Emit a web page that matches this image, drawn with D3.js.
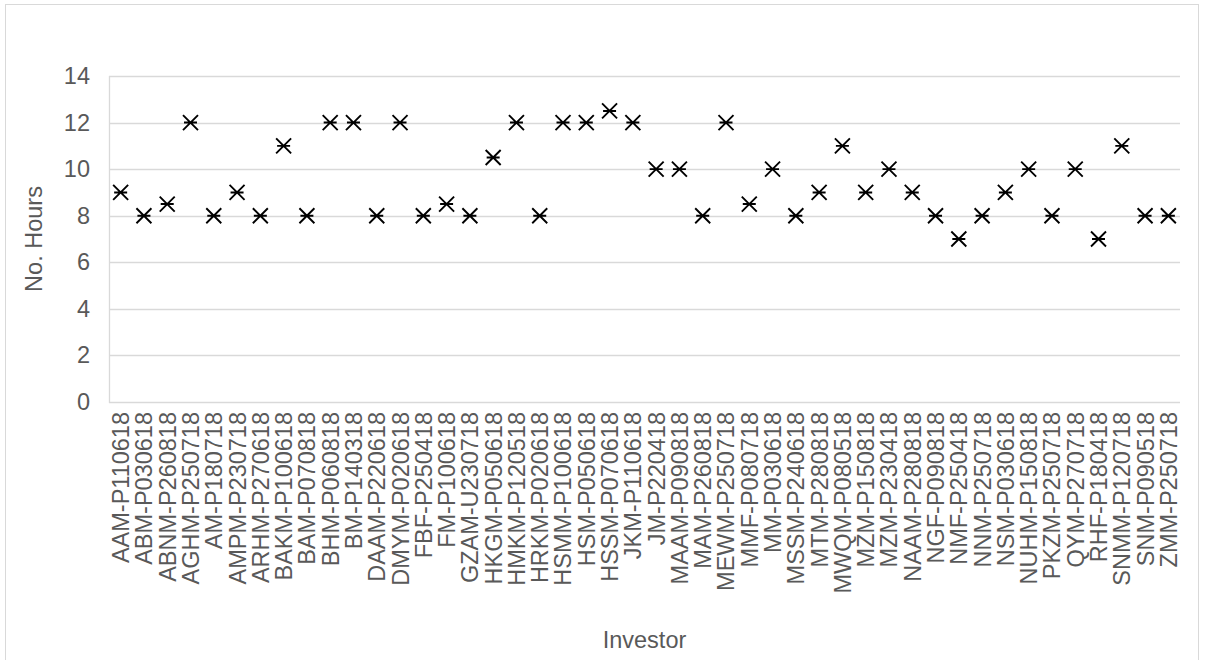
<!DOCTYPE html>
<html>
<head>
<meta charset="utf-8">
<script src="https://cdn.jsdelivr.net/npm/d3@7"></script>
<style>
  html, body { margin: 0; padding: 0; background: #fff; }
  svg { display: block; }
  text { font-family: "Liberation Sans", Arial, sans-serif; fill: #595959; }
</style>
</head>
<body>
<svg id="chart" width="1205" height="660"></svg>
<script>
// Hours per investor
const investors = [
  "AAM-P110618", "ABM-P030618", "ABNM-P260818", "AGHM-P250718", "AM-P180718",
  "AMPM-P230718", "ARHM-P270618", "BAKM-P100618", "BAM-P070818", "BHM-P060818",
  "BM-P140318", "DAAM-P220618", "DMYM-P020618", "FBF-P250418", "FM-P100618",
  "GZAM-U230718", "HKGM-P050618", "HMKM-P120518", "HRKM-P020618", "HSMM-P100618",
  "HSM-P050618", "HSSM-P070618", "JKM-P110618", "JM-P220418", "MAAM-P090818",
  "MAM-P260818", "MEWM-P250718", "MMF-P080718", "MM-P030618", "MSSM-P240618",
  "MTM-P280818", "MWQM-P080518", "MZM-P150818", "MZM-P230418", "NAAM-P280818",
  "NGF-P090818", "NMF-P250418", "NNM-P250718", "NSM-P030618", "NUHM-P150818",
  "PKZM-P250718", "QYM-P270718", "RHF-P180418", "SNMM-P120718", "SNM-P090518",
  "ZMM-P250718"
];
const hours = [
  9, 8, 8.5, 12, 8,
  9, 8, 11, 8, 12,
  12, 8, 12, 8, 8.5,
  8, 10.5, 12, 8, 12,
  12, 12.5, 12, 10, 10,
  8, 12, 8.5, 10, 8,
  9, 11, 9, 10, 9,
  8, 7, 8, 9, 10,
  8, 10, 7, 11, 8,
  8
];
const yTicks = [0, 2, 4, 6, 8, 10, 12, 14];
const xTitle = "Investor";
const yTitle = "No. Hours";

const svg = d3.select("#chart");
const W = 1205, H = 660;
const plot = { left: 109, right: 1180, top: 76, bottom: 402 };

// Chart frame
svg.append("rect")
  .attr("x", 5.5).attr("y", 4.5)
  .attr("width", 1193).attr("height", 660)
  .attr("fill", "#fff").attr("stroke", "#d9d9d9").attr("stroke-width", 1);

const x = d3.scaleBand()
  .domain(d3.range(investors.length))
  .range([plot.left, plot.right])
  .paddingInner(0).paddingOuter(0);

const y = d3.scaleLinear()
  .domain([0, 14])
  .range([plot.bottom, plot.top]);

// Horizontal gridlines
svg.append("g")
  .selectAll("line")
  .data(yTicks)
  .join("line")
  .attr("x1", plot.left).attr("x2", plot.right)
  .attr("y1", d => Math.round(y(d)) + 0.5)
  .attr("y2", d => Math.round(y(d)) + 0.5)
  .attr("stroke", "#d9d9d9").attr("stroke-width", 1.3);

// Left axis line
svg.append("line")
  .attr("x1", plot.left + 0.5).attr("x2", plot.left + 0.5)
  .attr("y1", plot.top).attr("y2", plot.bottom + 1)
  .attr("stroke", "#d9d9d9").attr("stroke-width", 1.3);

// Y axis labels
const yAxis = d3.axisLeft(y).tickValues(yTicks).tickSize(0).tickPadding(19);
const gy = svg.append("g")
  .attr("transform", `translate(${plot.left},0)`)
  .call(yAxis);
gy.select(".domain").remove();
gy.selectAll("text")
  .attr("font-size", "23.5px")
  .attr("font-family", "Liberation Sans, Arial, sans-serif")
  .attr("fill", "#595959");

// X axis labels (vertical)
const xAxis = d3.axisBottom(x).tickSize(0).tickFormat(i => investors[i]);
const gx = svg.append("g")
  .attr("transform", `translate(0,${plot.bottom})`)
  .call(xAxis);
gx.select(".domain").remove();
gx.selectAll("text")
  .attr("font-size", "23.5px")
  .attr("font-family", "Liberation Sans, Arial, sans-serif")
  .attr("fill", "#595959")
  .attr("text-anchor", "end")
  .attr("transform", "rotate(-90)")
  .attr("x", -10)
  .attr("y", 0)
  .attr("dy", "0.36em");

// Markers: X with a horizontal bar
const s = 7.5;
const markers = svg.append("g")
  .selectAll("path")
  .data(hours)
  .join("path")
  .attr("transform", (d, i) => `translate(${x(i) + x.bandwidth() / 2},${y(d)})`)
  .attr("d", `M${-s},${-s}L${s},${s}M${-s},${s}L${s},${-s}M${-s + 1},0L${s - 1},0`)
  .attr("fill", "none")
  .attr("stroke", "#000")
  .attr("stroke-width", 1.9);

// Axis titles
svg.append("text")
  .attr("x", (plot.left + plot.right) / 2)
  .attr("y", 648)
  .attr("text-anchor", "middle")
  .attr("font-size", "23.5px")
  .text(xTitle);

svg.append("text")
  .attr("transform", `translate(42,${(plot.top + plot.bottom) / 2}) rotate(-90)`)
  .attr("text-anchor", "middle")
  .attr("font-size", "23.5px")
  .text(yTitle);
</script>
</body>
</html>
